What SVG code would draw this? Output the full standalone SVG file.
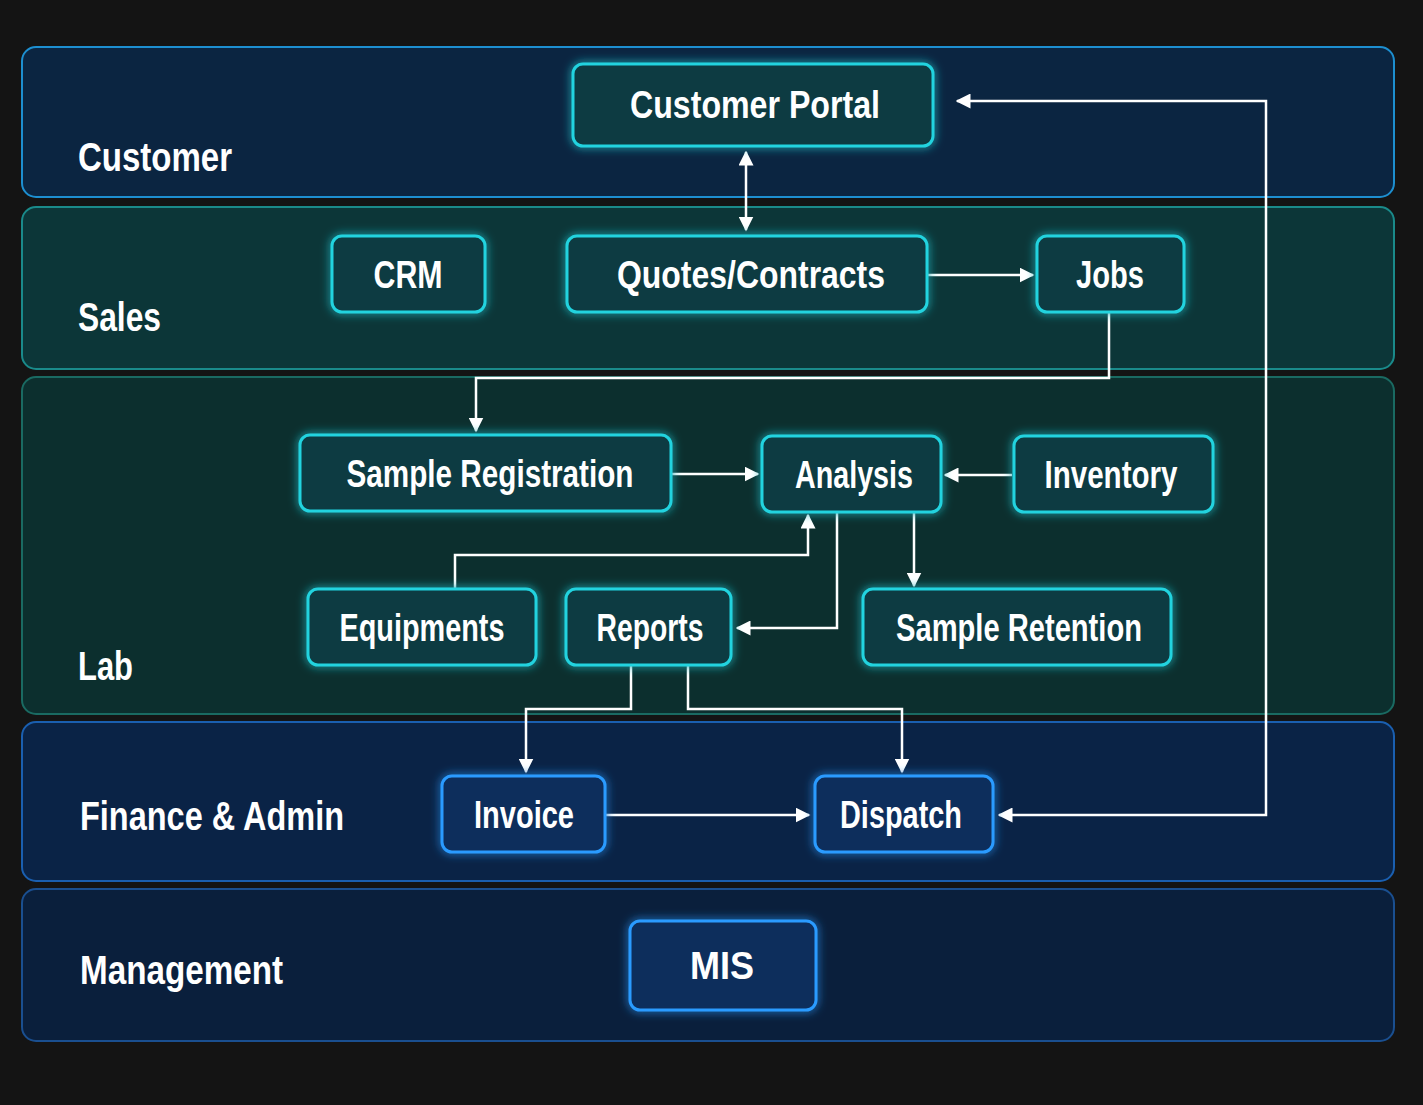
<svg xmlns="http://www.w3.org/2000/svg" width="1423" height="1105" viewBox="0 0 1423 1105">
<defs>
<style>
.lane{stroke-width:2}
.lt{font-family:"Liberation Sans",sans-serif;font-weight:bold;font-size:40px;fill:#fff}
.nt{font-family:"Liberation Sans",sans-serif;font-weight:bold;font-size:38px;fill:#fff;text-anchor:middle;dominant-baseline:central}
.tn{fill:#0b3b42;stroke:#22d3df;stroke-width:3}
.bn{fill:#0a2e5c;stroke:#2a9bff;stroke-width:3}
.c{fill:none;stroke:#fff;stroke-width:2.5}
</style>
<filter id="g" x="-30%" y="-50%" width="160%" height="200%"><feGaussianBlur stdDeviation="5" result="b"/><feMerge><feMergeNode in="b"/><feMergeNode in="SourceGraphic"/></feMerge></filter>
<marker id="a" viewBox="0 0 10 10" refX="9" refY="5" markerWidth="6" markerHeight="6" orient="auto-start-reverse"><path d="M0,0 L10,5 L0,10 z" fill="#fff"/></marker>
</defs>
<rect width="1423" height="1105" fill="#141414"/>
<g id="lanes">
<rect class="lane" x="22" y="47" width="1372" height="150" rx="14" fill="#0b2541" stroke="#1d8fd0"/>
<rect class="lane" x="22" y="207" width="1372" height="162" rx="14" fill="#0c3638" stroke="#1a8a8a"/>
<rect class="lane" x="22" y="377" width="1372" height="337" rx="14" fill="#0c2f2e" stroke="#1a6a62"/>
<rect class="lane" x="22" y="722" width="1372" height="159" rx="14" fill="#0a2346" stroke="#1a5fb0"/>
<rect class="lane" x="22" y="889" width="1372" height="152" rx="14" fill="#0a1f3c" stroke="#1a4f90"/>
<text class="lt" x="78" y="171" textLength="154" lengthAdjust="spacingAndGlyphs">Customer</text>
<text class="lt" x="78" y="331" textLength="83" lengthAdjust="spacingAndGlyphs">Sales</text>
<text class="lt" x="78" y="680" textLength="55" lengthAdjust="spacingAndGlyphs">Lab</text>
<text class="lt" x="80" y="830" textLength="264" lengthAdjust="spacingAndGlyphs">Finance &amp; Admin</text>
<text class="lt" x="80" y="984" textLength="203" lengthAdjust="spacingAndGlyphs">Management</text>
</g>
<g id="connectors">
<path class="c" d="M746,152 V230" marker-start="url(#a)" marker-end="url(#a)"/>
<path class="c" d="M927,275 H1033" marker-end="url(#a)"/>
<path class="c" d="M1109,312 V378 H476 V431" marker-end="url(#a)"/>
<path class="c" d="M671,474 H758" marker-end="url(#a)"/>
<path class="c" d="M1012,475 H945" marker-end="url(#a)"/>
<path class="c" d="M455,589 V555 H808 V515" marker-end="url(#a)"/>
<path class="c" d="M837,512 V628 H737" marker-end="url(#a)"/>
<path class="c" d="M914,512 V586" marker-end="url(#a)"/>
<path class="c" d="M631,665 V709 H526 V772" marker-end="url(#a)"/>
<path class="c" d="M688,665 V709 H902 V772" marker-end="url(#a)"/>
<path class="c" d="M605,815 H809" marker-end="url(#a)"/>
<path class="c" d="M999,815 H1266 V101 H957" marker-start="url(#a)" marker-end="url(#a)"/>
</g>
<g id="portal"><rect class="tn" filter="url(#g)" x="573" y="64" width="360" height="82" rx="10"/><text class="nt" x="755" y="105" textLength="250" lengthAdjust="spacingAndGlyphs">Customer Portal</text></g>
<g id="crm"><rect class="tn" filter="url(#g)" x="332" y="236" width="153" height="76" rx="10"/><text class="nt" x="408" y="275" textLength="69" lengthAdjust="spacingAndGlyphs">CRM</text></g>
<g id="quotes"><rect class="tn" filter="url(#g)" x="567" y="236" width="360" height="76" rx="10"/><text class="nt" x="751" y="275" textLength="268" lengthAdjust="spacingAndGlyphs">Quotes/Contracts</text></g>
<g id="jobs"><rect class="tn" filter="url(#g)" x="1037" y="236" width="147" height="76" rx="10"/><text class="nt" x="1110" y="275" textLength="68" lengthAdjust="spacingAndGlyphs">Jobs</text></g>
<g id="samplereg"><rect class="tn" filter="url(#g)" x="300" y="435" width="371" height="76" rx="10"/><text class="nt" x="490" y="474" textLength="287" lengthAdjust="spacingAndGlyphs">Sample Registration</text></g>
<g id="analysis"><rect class="tn" filter="url(#g)" x="762" y="436" width="179" height="76" rx="10"/><text class="nt" x="854" y="475" textLength="118" lengthAdjust="spacingAndGlyphs">Analysis</text></g>
<g id="inventory"><rect class="tn" filter="url(#g)" x="1014" y="436" width="199" height="76" rx="10"/><text class="nt" x="1111" y="475" textLength="133" lengthAdjust="spacingAndGlyphs">Inventory</text></g>
<g id="equipments"><rect class="tn" filter="url(#g)" x="308" y="589" width="228" height="76" rx="10"/><text class="nt" x="422" y="628" textLength="165" lengthAdjust="spacingAndGlyphs">Equipments</text></g>
<g id="reports"><rect class="tn" filter="url(#g)" x="566" y="589" width="165" height="76" rx="10"/><text class="nt" x="650" y="628" textLength="107" lengthAdjust="spacingAndGlyphs">Reports</text></g>
<g id="retention"><rect class="tn" filter="url(#g)" x="863" y="589" width="308" height="76" rx="10"/><text class="nt" x="1019" y="628" textLength="246" lengthAdjust="spacingAndGlyphs">Sample Retention</text></g>
<g id="invoice"><rect class="bn" filter="url(#g)" x="442" y="776" width="163" height="76" rx="10"/><text class="nt" x="524" y="815" textLength="100" lengthAdjust="spacingAndGlyphs">Invoice</text></g>
<g id="dispatch"><rect class="bn" filter="url(#g)" x="815" y="776" width="178" height="76" rx="10"/><text class="nt" x="901" y="815" textLength="122" lengthAdjust="spacingAndGlyphs">Dispatch</text></g>
<g id="mis"><rect class="bn" filter="url(#g)" x="630" y="921" width="186" height="89" rx="10"/><text class="nt" x="722" y="966" textLength="64" lengthAdjust="spacingAndGlyphs">MIS</text></g>
</svg>
